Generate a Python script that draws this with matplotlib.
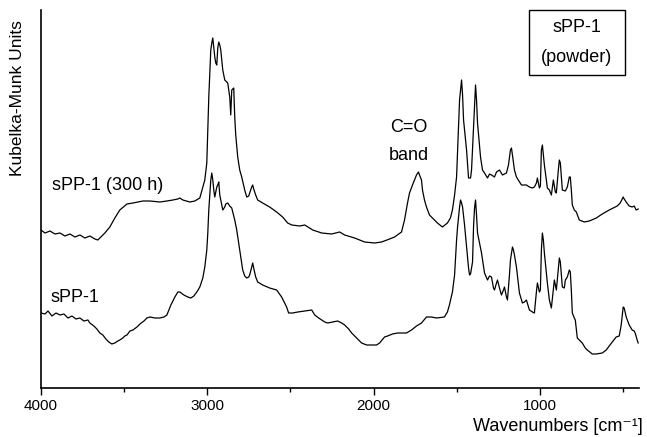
import matplotlib
matplotlib.use("Agg")
import matplotlib.pyplot as plt
from matplotlib.ticker import MultipleLocator
from matplotlib.patches import Rectangle

plt.rcParams['font.family'] = ['Liberation Sans', 'DejaVu Sans']

# sPP-1 (300 h) spectrum: wavenumber [cm-1], Kubelka-Munk (arbitrary units)
wn_aged = [4000, 3976, 3946, 3916, 3886, 3856, 3826, 3796, 3766, 3736, 3706, 3676, 3658, 3646, 3616,
           3586, 3556, 3526, 3483, 3447, 3387, 3345, 3285, 3243, 3207, 3177, 3165, 3147, 3105, 3075,
           3045, 3027, 3015, 3003, 2991, 2979, 2973, 2967, 2961, 2955, 2949, 2943, 2937, 2931, 2925,
           2919, 2907, 2895, 2877, 2865, 2859, 2853, 2841, 2835, 2829, 2817, 2805, 2793, 2775, 2763,
           2751, 2745, 2733, 2727, 2721, 2709, 2697, 2667, 2625, 2583, 2547, 2517, 2492, 2444, 2414,
           2366, 2312, 2252, 2204, 2174, 2114, 2054, 1994, 1952, 1904, 1874, 1832, 1814, 1796, 1784,
           1766, 1754, 1742, 1730, 1724, 1712, 1706, 1694, 1682, 1664, 1646, 1616, 1586, 1556, 1538,
           1526, 1513, 1501, 1489, 1483, 1471, 1465, 1459, 1441, 1429, 1417, 1411, 1399, 1387, 1381,
           1375, 1357, 1345, 1333, 1315, 1303, 1291, 1273, 1261, 1243, 1225, 1201, 1189, 1177, 1171,
           1165, 1153, 1141, 1111, 1081, 1063, 1045, 1033, 1021, 1015, 1003, 997, 991, 985, 973,
           955, 943, 931, 919, 907, 901, 889, 883, 877, 865, 847, 835, 823, 817, 811,
           805, 793, 781, 763, 733, 703, 661, 625, 583, 535, 517, 499, 493, 481, 463,
           445, 433, 421, 409]
km_aged = [158, 155, 157, 154, 155, 152, 154, 151, 153, 150, 152, 149, 148, 150, 155,
           161, 170, 178, 184, 185, 187, 187, 186, 187, 188, 189, 190, 188, 186, 187,
           190, 201, 208, 225, 291, 338, 345, 350, 340, 331, 325, 323, 340, 346, 343,
           338, 318, 308, 305, 291, 273, 298, 300, 271, 253, 231, 218, 211, 198, 191,
           192, 195, 201, 203, 199, 193, 188, 185, 181, 176, 171, 165, 163, 162, 163,
           158, 155, 154, 156, 153, 150, 146, 145, 146, 149, 151, 156, 168, 185, 195,
           203, 208, 213, 216, 213, 208, 198, 188, 181, 173, 170, 165, 161, 165, 170,
           178, 193, 211, 261, 288, 308, 293, 268, 238, 210, 210, 218, 261, 303, 288,
           265, 231, 218, 215, 210, 214, 213, 211, 216, 218, 213, 215, 223, 238, 240,
           233, 218, 211, 203, 203, 201, 200, 201, 205, 210, 200, 202, 238, 243, 223,
           200, 198, 193, 208, 196, 195, 218, 228, 225, 198, 197, 201, 211, 211, 198,
           183, 178, 176, 168, 166, 167, 170, 174, 178, 182, 185, 191, 189, 186, 182,
           181, 182, 178, 179]

# sPP-1 spectrum
wn_fresh = [4000, 3976, 3958, 3934, 3910, 3886, 3862, 3838, 3814, 3790, 3766, 3742, 3718, 3706, 3682,
            3664, 3646, 3628, 3610, 3592, 3574, 3556, 3538, 3526, 3508, 3496, 3483, 3465, 3447, 3423,
            3405, 3381, 3363, 3345, 3315, 3285, 3261, 3243, 3219, 3195, 3177, 3165, 3141, 3117, 3099,
            3081, 3063, 3045, 3027, 3015, 3003, 2997, 2991, 2985, 2979, 2973, 2967, 2961, 2955, 2949,
            2943, 2937, 2931, 2925, 2919, 2907, 2895, 2889, 2877, 2865, 2853, 2847, 2835, 2823, 2805,
            2787, 2775, 2763, 2751, 2745, 2733, 2727, 2721, 2709, 2697, 2667, 2625, 2583, 2553, 2535,
            2523, 2511, 2486, 2456, 2414, 2372, 2354, 2330, 2312, 2294, 2276, 2246, 2216, 2192, 2174,
            2150, 2132, 2102, 2072, 2042, 2012, 1982, 1964, 1934, 1916, 1886, 1856, 1826, 1802, 1772,
            1742, 1712, 1682, 1652, 1622, 1574, 1556, 1544, 1526, 1513, 1501, 1495, 1483, 1477, 1471,
            1465, 1453, 1441, 1429, 1423, 1417, 1405, 1399, 1393, 1387, 1381, 1375, 1363, 1351, 1333,
            1315, 1303, 1291, 1279, 1273, 1261, 1255, 1243, 1231, 1219, 1213, 1201, 1195, 1183, 1177,
            1165, 1159, 1153, 1141, 1123, 1105, 1093, 1081, 1063, 1045, 1033, 1021, 1015, 1003, 997,
            991, 985, 979, 973, 955, 943, 931, 919, 913, 901, 889, 883, 877, 865, 853,
            847, 835, 823, 817, 811, 805, 793, 787, 775, 763, 745, 727, 715, 685, 661,
            625, 601, 583, 565, 541, 523, 511, 499, 493, 481, 463, 445, 433, 427, 415,
            409]
km_fresh = [75, 74, 77, 72, 75, 73, 74, 70, 72, 69, 70, 67, 68, 65, 62,
            59, 55, 53, 49, 46, 44, 45, 47, 48, 50, 52, 53, 57, 58, 61,
            64, 67, 70, 71, 70, 70, 71, 73, 83, 91, 96, 96, 93, 91, 90,
            92, 96, 101, 110, 121, 138, 155, 178, 193, 208, 215, 208, 198, 191, 196,
            201, 203, 206, 193, 188, 178, 181, 184, 185, 182, 180, 176, 168, 158, 138,
            118, 112, 110, 111, 113, 121, 125, 120, 111, 106, 103, 100, 98, 91, 85,
            81, 75, 75, 76, 77, 78, 73, 70, 68, 66, 65, 66, 67, 65, 63,
            59, 55, 50, 45, 43, 43, 43, 45, 51, 52, 54, 55, 55, 55, 58,
            62, 65, 71, 71, 70, 71, 76, 83, 96, 113, 148, 161, 181, 188, 185,
            181, 163, 141, 120, 113, 114, 126, 161, 180, 188, 173, 155, 145, 135, 115,
            108, 112, 111, 100, 98, 105, 108, 100, 93, 98, 101, 91, 88, 113, 128,
            141, 138, 133, 121, 95, 85, 86, 88, 78, 76, 75, 96, 105, 96, 98,
            138, 155, 148, 135, 105, 88, 80, 98, 108, 98, 120, 130, 126, 101, 100,
            108, 111, 118, 116, 98, 75, 70, 68, 50, 48, 45, 40, 38, 34, 34,
            35, 38, 42, 46, 51, 52, 63, 81, 80, 71, 63, 58, 57, 55, 48,
            45]

xticks = [4000, 3000, 2000, 1000]

W, H = 647, 437
fig = plt.figure(figsize=(6.47, 4.37), dpi=100)
ax = fig.add_axes([41/W, 1-388/H, (639-41)/W, (388-10)/H])

ax.plot(wn_aged, km_aged, color='black', lw=0.9)
ax.plot(wn_fresh, km_fresh, color='black', lw=0.9)

ax.set_xlim(4000, 404)
ax.set_ylim(0, 378)
ax.set_xticks(xticks)
ax.xaxis.set_minor_locator(MultipleLocator(500))
ax.tick_params(axis='x', which='major', direction='out', length=5, width=1, labelsize=11, pad=3)
ax.tick_params(axis='x', which='minor', direction='out', length=3, width=1)
ax.set_yticks([])
for s in ['top', 'right']:
    ax.spines[s].set_visible(False)
for s in ['left', 'bottom']:
    ax.spines[s].set_linewidth(1.2)

fig.text(18/W, 1-98/H, 'Kubelka-Munk Units', rotation=90, ha='center', va='center', fontsize=12.5)
fig.text(643/W, 1-435/H, 'Wavenumbers [cm\u207b\u00b9]', ha='right', va='bottom', fontsize=13)

fs = 13
ax.text(3935, 388-186, 'sPP-1 (300 h)', ha='left', va='center', fontsize=fs)
ax.text(3945, 388-297, 'sPP-1', ha='left', va='center', fontsize=fs)
ax.text(1790, 388-127, 'C=O', ha='center', va='center', fontsize=fs)
ax.text(1790, 388-156, 'band', ha='center', va='center', fontsize=fs)

fig.add_artist(Rectangle((529/W, 1-75/H), (625-529)/W, (75-10)/H, transform=fig.transFigure,
                         fill=True, fc='white', ec='black', lw=1))
fig.text(577/W, 1-28/H, 'sPP-1', ha='center', va='center', fontsize=fs)
fig.text(577/W, 1-57/H, '(powder)', ha='center', va='center', fontsize=fs)

fig.savefig('out.png', dpi=100)
